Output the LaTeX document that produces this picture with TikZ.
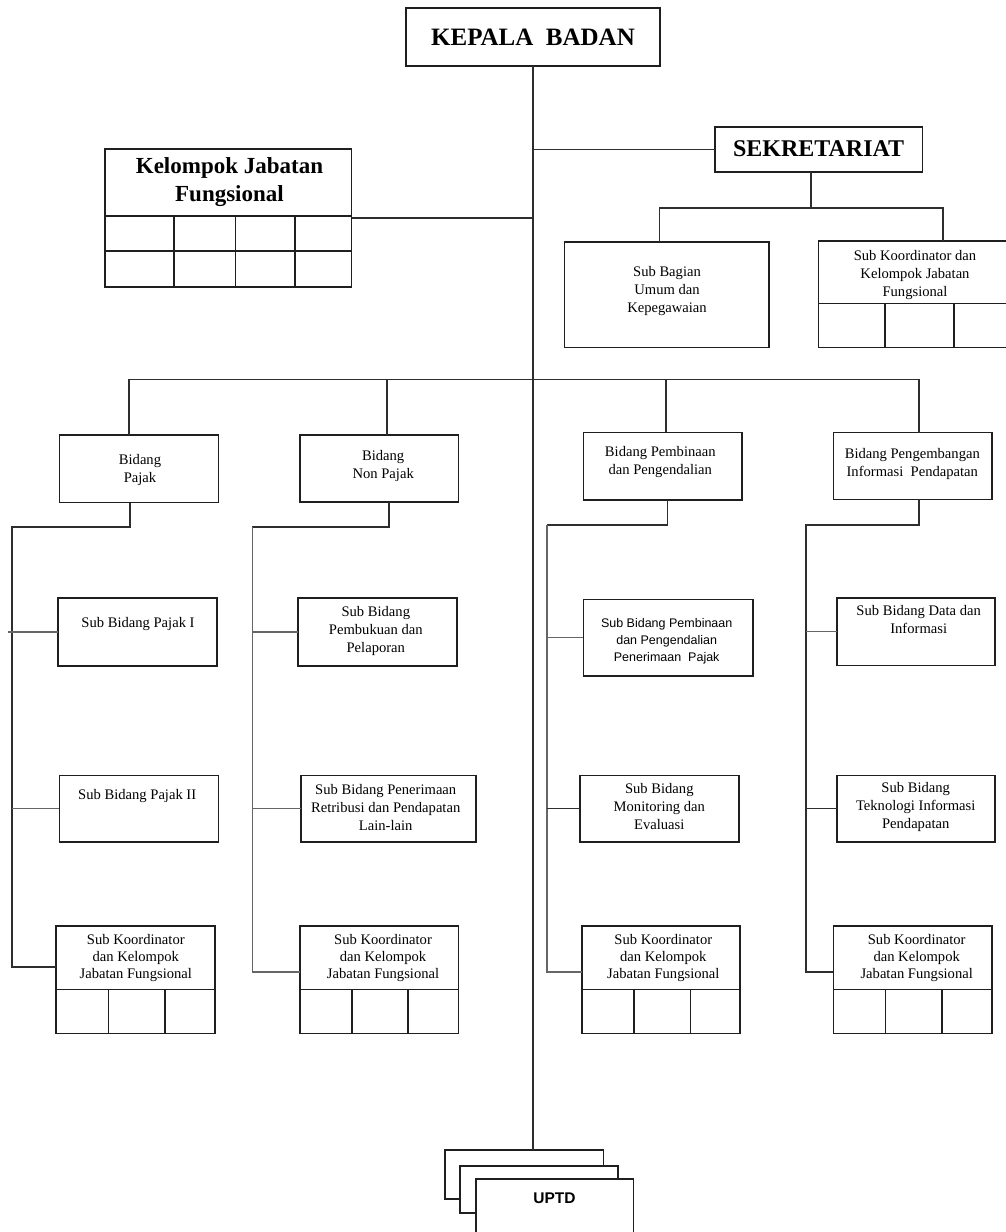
\documentclass[tikz,border=0pt]{standalone}
\usepackage{fontspec}
\setmainfont{Liberation Serif}
\newfontfamily\sansf{Liberation Sans}
\usetikzlibrary{calc}
\tikzset{
  box/.style={draw=black!88, line width=1.6pt, inner sep=0pt, outer sep=0pt, fill=white},
  conn/.style={draw=black!82, line width=1.6pt},
  subconn/.style={draw=black!60, line width=1.6pt},
  gridline/.style={draw=black!88, line width=1.6pt},
  txt/.style={align=center, inner sep=0pt, text=black, font=\fontsize{14.6}{18}\selectfont},
  txtk/.style={align=center, inner sep=0pt, text=black, font=\fontsize{14.6}{17}\selectfont},
  sanstxt/.style={align=center, inner sep=0pt, text=black, font=\sansf\fontsize{12.5}{17}\selectfont},
  bigtxt/.style={inner sep=0pt, text=black, font=\fontsize{25}{30}\selectfont\bfseries},
  sektxt/.style={inner sep=0pt, text=black, font=\fontsize{24}{28}\selectfont\bfseries},
  kjftxt/.style={align=center, inner sep=0pt, text=black, font=\fontsize{23}{27.4}\selectfont\bfseries},
  upttxt/.style={inner sep=0pt, text=black, font=\sansf\fontsize{15.5}{18}\selectfont\bfseries},
}
% \mybox[opts]{name}{x1}{y1}{x2}{y2}
\newcommand\mybox[6][]{\node[box,minimum width={(#5)-(#3)},minimum height={(#6)-(#4)},#1] (#2) at ({((#3)+(#5))/2},{((#4)+(#6))/2}) {};}
\begin{document}
\begin{tikzpicture}[x=1pt,y=-1pt]
\clip (0,0) rectangle (1006,1232);
\fill[white] (0,0) rectangle (1006,1232);

% ---------- junction coordinates ----------
\coordinate (sekJ) at (811,208);
\coordinate (sbJ) at (659.5,208);
\coordinate (stJ) at (943,208);
\coordinate (busL) at (129,379.3);
\coordinate (busNP) at (387,379.3);
\coordinate (busPB) at (665.7,379.3);
\coordinate (busR) at (919,379.3);
\coordinate (pjA) at (129.7,526.7);
\coordinate (pjV) at (11.7,526.7);
\coordinate (pjE) at (11.7,966.7);
\coordinate (npA) at (388.7,526.7);
\coordinate (npV) at (252.3,526.7);
\coordinate (npE) at (252.3,971.7);
\coordinate (pbA) at (667.3,525);
\coordinate (pbV) at (546.7,525);
\coordinate (pbE) at (546.7,971.7);
\coordinate (pgA) at (919,525);
\coordinate (pgV) at (806,525);
\coordinate (pgE) at (806,971.7);

% ---------- boxes ----------
\mybox{kepala}{406}{8}{660}{66}
\mybox{sek}{715}{127}{922.5}{172}
\mybox{kjf}{105}{149}{351.6}{287}
\mybox{subbag}{564.5}{242}{769}{347.5}
\mybox{sktop}{818.3}{240.7}{1012}{347.3}
\mybox{bpajak}{59.3}{435}{218.3}{502.5}
\mybox{bnon}{300}{435}{458.3}{501.7}
\mybox{bpemb}{583.3}{432.3}{741.7}{499.7}
\mybox{bpeng}{833.3}{432.5}{992}{499.3}
\mybox{spone}{58}{597.7}{216.7}{665.7}
\mybox{sbuku}{298}{597.7}{456.7}{665.7}
\mybox{spp}{583.3}{599.3}{753}{676}
\mybox{sdata}{836.7}{598}{995}{665.3}
\mybox{sptwo}{59.3}{775.3}{218.3}{842}
\mybox{sret}{301}{775.3}{476}{842}
\mybox{smon}{580}{775.3}{738.7}{842}
\mybox{stek}{836.7}{775.3}{995}{842}
\mybox{ka}{56}{926}{214.7}{1033.3}
\mybox{kb}{300}{926}{458.3}{1033.3}
\mybox{kc}{581.7}{926}{740}{1033.3}
\mybox{kd}{833.3}{926}{991.7}{1033.3}
\mybox{uone}{445}{1150}{603.3}{1198.7}
\mybox{utwo}{460}{1166}{617.7}{1212.7}
\mybox{uthree}{475.7}{1178.7}{633.3}{1245}

% ---------- grids inside boxes ----------
\draw[gridline] (105,216) -- (351.6,216);
\draw[gridline] (105,251) -- (351.6,251);
\foreach \gx in {174,235.5,295} \draw[gridline] (\gx,216) -- (\gx,287);
\draw[gridline] (818.3,303.3) -- (1012,303.3);
\foreach \gx in {885,954} \draw[gridline] (\gx,303.3) -- (\gx,347.3);
\foreach \xa/\xb/\da/\db in {56/214.7/108.3/164.7, 300/458.3/351.7/408, 581.7/740/633.7/690.3, 833.3/991.7/885.3/941.7}{
  \draw[gridline] (\xa,989.3) -- (\xb,989.3);
  \draw[gridline] (\da,989.3) -- (\da,1033.3);
  \draw[gridline] (\db,989.3) -- (\db,1033.3);
}

% ---------- texts ----------
\node[bigtxt] (kepalaT) at (533,37.5) {KEPALA\ \ BADAN};
\node[sektxt] (sekT) at (818.6,148.5) {SEKRETARIAT};
\node[kjftxt] (kjfT) at (229.5,182) {Kelompok Jabatan\\Fungsional};
\node[txt] (subbagT) at (667,291.3) {Sub Bagian\\Umum dan\\Kepegawaian};
\node[txt] (sktopT) at (915,275) {Sub Koordinator dan\\Kelompok Jabatan\\Fungsional};
\node[txt] (bpajakT) at (140,470.3) {Bidang\\Pajak};
\node[txt] (bnonT) at (383.2,466.2) {Bidang\\Non Pajak};
\node[txt] (bpembT) at (660.3,462) {Bidang Pembinaan\\dan Pengendalian};
\node[txt] (bpengT) at (912.3,463.8) {Bidang Pengembangan\\Informasi\ \ Pendapatan};
\node[txt] (sponeT) at (138,624) {Sub Bidang Pajak I};
\node[txt] (sbukuT) at (375.8,631) {Sub Bidang\\Pembukuan dan\\Pelaporan};
\node[sanstxt] (sppT) at (666.7,640.8) {Sub Bidang Pembinaan\\dan Pengendalian\\Penerimaan\ \ Pajak};
\node[txt] (sdataT) at (918.7,619.7) {Sub Bidang Data dan\\Informasi};
\node[txt] (sptwoT) at (137.2,795.7) {Sub Bidang Pajak II};
\node[txt] (sretT) at (385.7,807.2) {Sub Bidang Penerimaan\\Retribusi dan Pendapatan\\Lain-lain};
\node[txt] (smonT) at (659.3,806.2) {Sub Bidang\\Monitoring dan\\Evaluasi};
\node[txt] (stekT) at (915.7,807) {Sub Bidang\\Teknologi Informasi\\Pendapatan};
\node[txtk] (kaT) at (135.8,958.3) {Sub Koordinator\\dan Kelompok\\Jabatan Fungsional};
\node[txtk] (kbT) at (383,958.3) {Sub Koordinator\\dan Kelompok\\Jabatan Fungsional};
\node[txtk] (kcT) at (663.3,958.3) {Sub Koordinator\\dan Kelompok\\Jabatan Fungsional};
\node[txtk] (kdT) at (916.7,958.3) {Sub Koordinator\\dan Kelompok\\Jabatan Fungsional};
\node[upttxt] (uthreeT) at (554.5,1198.3) {UPTD};

% ---------- connectors ----------
\draw[conn] (kepala.south) -- (kepala.south |- uone.north);
\draw[conn] (sek.west) -- (sek.west -| kepala.south);
\draw[conn] (kjf.east) -- (kjf.east -| kepala.south);
\draw[conn] (sekJ |- sek.south) -- (sekJ);
\draw[conn] (sbJ |- subbag.north) -- (sbJ) -- (stJ) -- (stJ |- sktop.north);
% main bus
\draw[conn] (busL |- bpajak.north) -- (busL) -- (busR) -- (busR |- bpeng.north);
\draw[conn] (busNP) -- (busNP |- bnon.north);
\draw[conn] (busPB) -- (busPB |- bpemb.north);
% Bidang Pajak branch
\draw[conn] (pjA |- bpajak.south) -- (pjA) -- (pjV) -- (pjE) -- (pjE -| ka.west);
\draw[subconn] ($(pjV |- spone.west)+(-3.5,0)$) -- (spone.west);
\draw[subconn] (pjV |- sptwo.west) -- (sptwo.west);
% Bidang Non Pajak branch
\draw[conn] (npA |- bnon.south) -- (npA) -- (npV);
\draw[subconn] (npV) -- (npE) -- (npE -| kb.west);
\draw[subconn] (npV |- sbuku.west) -- (sbuku.west);
\draw[subconn] (npV |- sret.west) -- (sret.west);
% Bidang Pembinaan branch
\draw[conn] (pbA |- bpemb.south) -- (pbA) -- (pbV);
\draw[subconn] (pbV) -- (pbE) -- (pbE -| kc.west);
\draw[subconn] (pbV |- spp.west) -- (spp.west);
\draw[conn] (pbV |- smon.west) -- (smon.west);
% Bidang Pengembangan branch
\draw[conn] (pgA |- bpeng.south) -- (pgA) -- (pgV) -- (pgE) -- (pgE -| kd.west);
\draw[subconn] (pgV |- sdata.west) -- (sdata.west);
\draw[conn] (pgV |- stek.west) -- (stek.west);
\end{tikzpicture}
\end{document}
